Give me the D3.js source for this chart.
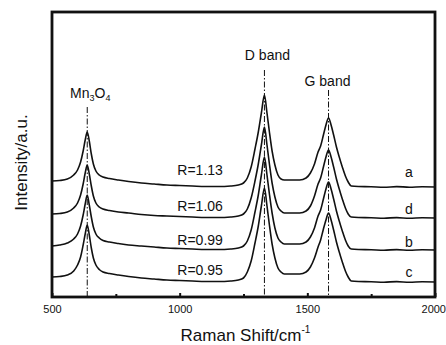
<!DOCTYPE html>
<html>
<head>
<meta charset="utf-8">
<script src="https://cdn.jsdelivr.net/npm/d3@7/dist/d3.min.js"></script>
<style>
  html, body { margin: 0; padding: 0; background: #fff; }
  svg { display: block; font-family: "Liberation Sans", Arial, sans-serif; }
</style>
</head>
<body>
<svg id="chart" width="446" height="345"></svg>
<script>
// Raman shift (cm^-1) sample positions
const shift = [500,530,560,585,600,612,622,630,638,646,654,662,672,685,700,725,760,800,850,900,950,1000,1050,1100,1150,1200,1230,1250,1265,1280,1295,1308,1320,1332,1342,1352,1362,1373,1385,1397,1410,1440,1470,1495,1512,1528,1542,1552,1563,1573,1583,1593,1603,1614,1625,1637,1649,1660,1672,1700,1750,1800,1850,1900,1950,2000];

// Offset spectra (intensity, a.u.)
const seriesA = [116,116.5,118,122,127,135,146,157,165,156,143,133,126,122,120,118.5,117,115.5,114,113,112,111.5,111,110.5,110.5,111,112,114,119,130,148,165,184,202,184,164,146,132,122,118,117,117,117,119,124,133,145,151,162,172,179,172,162,150,140,130,121,115,111,110.5,110.3,109.7,110.4,109.8,110.2,110];
const seriesD = [83,83.5,85,89,94,102,113,124,132,123,111,101,94,90,88,86.5,85,84,82.5,81.5,81,80.5,80,79.5,79.5,80,81,83,88,99,116,133,152,170,152,132,114,100,90,86,84,84,84,86,91,101,113,119,130,140,147,140,130,118,108,98,89,83,80,79.5,79.3,78.8,79.4,78.7,79.2,79];
const seriesB = [51,52,54,58,63,71,82,93,102,92,80,70,63,59,56.5,55,53.5,52,51,50,49,48.5,48,47.5,47.5,48,49,51,56,67,85,102,122,140,122,102,84,69,59,55,53,53,53,55,60,69,81,87,98,108,115,108,98,86,76,66,57,51,48,47.5,47.3,46.8,47.4,46.7,47.2,47];
const seriesC = [20,20.5,22,26,32,40,52,63,72,62,49,39,32,27.5,25,23.5,22,20.5,19,18,17,16.5,16,15.5,15.5,16,17,19,25,36,54,71,91,109,91,71,53,39,29,25,23,23,23,25,30,39,50,57,68,77,84,77,67,55,45,35,26,20,16,15.5,15.3,14.8,15.4,14.7,15.2,15];

const seriesLetters = ["a","d","b","c"];
const ratioLabels = ["R=1.13","R=1.06","R=0.99","R=0.95"];
const ratioLabelY = [122, 86, 52, 22];
const letterLabelY = [120.5, 83, 50, 20];
const ratioLabelX = 1080;
const letterLabelX = 1898;

// Band markers
const bandNames = ["Mn3O4","D band","G band"];
const bandShift = [638, 1332, 1583];
const bandLineTop = [190, 227, 207];
const bandLabelY = [199, 237, 211];

const xTicks = [500,1000,1500,2000];
const xMinorTicks = [750,1250,1750];

const svg = d3.select("#chart");
const M = {left: 52, right: 435, top: 12, bottom: 297};

const x = d3.scaleLinear().domain([500, 2000]).range([M.left, M.right]);
const y = d3.scaleLinear().domain([0, 285]).range([M.bottom, M.top]);

// Spectra
const allSeries = [seriesA, seriesD, seriesB, seriesC];
const line = d3.line().x((d, i) => x(shift[i])).y(d => y(d)).curve(d3.curveMonotoneX);
svg.append("g").selectAll("path").data(allSeries).join("path")
  .attr("d", line)
  .attr("fill", "none")
  .attr("stroke", "#111")
  .attr("stroke-width", 1.6)
  .attr("stroke-linejoin", "round");

// Dash-dot band lines
svg.append("g").selectAll("line").data(bandShift).join("line")
  .attr("x1", d => x(d)).attr("x2", d => x(d))
  .attr("y1", (d, i) => y(bandLineTop[i])).attr("y2", y(0))
  .attr("stroke", "#111").attr("stroke-width", 1)
  .attr("stroke-dasharray", "6,2,1.5,2");

// Band labels
const bl = svg.append("g").attr("font-size", 14).attr("fill", "#111").attr("text-anchor", "middle");
bandNames.forEach((name, i) => {
  const t = bl.append("text").attr("x", x(bandShift[i]) + (i === 0 ? 3 : (i === 1 ? 3 : -1))).attr("y", y(bandLabelY[i]));
  if (name === "Mn3O4") {
    t.append("tspan").text("Mn");
    t.append("tspan").attr("font-size", 9).attr("dy", 3).text("3");
    t.append("tspan").attr("dy", -3).text("O");
    t.append("tspan").attr("font-size", 9).attr("dy", 3).text("4");
  } else {
    t.text(name);
  }
});

// Ratio labels and letters
svg.append("g").selectAll("text").data(ratioLabels).join("text")
  .attr("x", x(ratioLabelX)).attr("y", (d, i) => y(ratioLabelY[i]))
  .attr("text-anchor", "middle").attr("font-size", 14).attr("fill", "#111")
  .text(d => d);
svg.append("g").selectAll("text").data(seriesLetters).join("text")
  .attr("x", x(letterLabelX)).attr("y", (d, i) => y(letterLabelY[i]))
  .attr("text-anchor", "middle").attr("font-size", 14).attr("fill", "#111")
  .text(d => d);

// X axis
const xAxis = d3.axisBottom(x).tickValues(xTicks).tickSizeInner(-4).tickSizeOuter(0).tickPadding(8).tickFormat(d3.format("d"));
const gx = svg.append("g").attr("transform", `translate(0,${M.bottom})`).call(xAxis);
gx.select(".domain").remove();
gx.selectAll(".tick line").attr("stroke", "#111").attr("stroke-width", 2);
gx.selectAll(".tick text").attr("font-size", 11).attr("fill", "#111").attr("font-family", "Liberation Sans, Arial, sans-serif")
  .attr("text-anchor", d => d === 2000 ? "end" : "middle")
  .attr("dx", d => d === 2000 ? 10.5 : 0);
const xMinor = d3.axisBottom(x).tickValues(xMinorTicks).tickSizeInner(-3).tickSizeOuter(0).tickFormat("");
const gxm = svg.append("g").attr("transform", `translate(0,${M.bottom})`).call(xMinor);
gxm.select(".domain").remove();
gxm.selectAll(".tick line").attr("stroke", "#111").attr("stroke-width", 2);

// Frame
svg.append("rect")
  .attr("x", M.left).attr("y", M.top)
  .attr("width", M.right - M.left).attr("height", M.bottom - M.top)
  .attr("fill", "none").attr("stroke", "#111").attr("stroke-width", 2.8);

// Axis titles
const xt = svg.append("text").attr("x", (M.left + M.right) / 2 + 2).attr("y", 341)
  .attr("text-anchor", "middle").attr("font-size", 17).attr("fill", "#111");
xt.append("tspan").text("Raman Shift/cm");
xt.append("tspan").attr("font-size", 10).attr("dy", -8).text("-1");

svg.append("text")
  .attr("transform", `translate(27,${(M.top + M.bottom) / 2 + 8}) rotate(-90)`)
  .attr("text-anchor", "middle").attr("font-size", 17).attr("fill", "#111")
  .text("Intensity/a.u.");
</script>
</body>
</html>
